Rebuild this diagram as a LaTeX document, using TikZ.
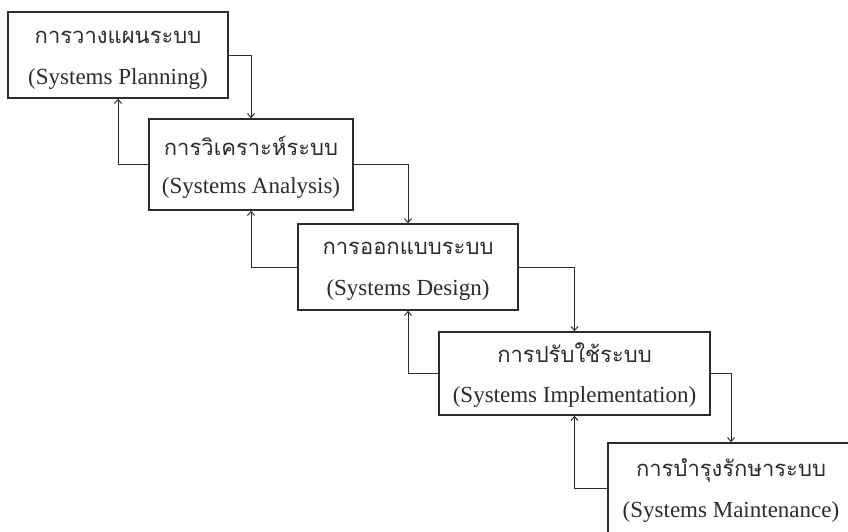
\documentclass[tikz,border=0pt]{standalone}
\usepackage{fontspec}
\setmainfont{Liberation Serif}
\newfontfamily\thaifont[Script=Thai]{Loma}
\usetikzlibrary{arrows.meta}
\definecolor{ink}{HTML}{2C2C2C}
\tikzset{
  x=1pt, y=-1pt,
  stage/.style={draw=ink, line width=1.5pt, fill=white, inner sep=0pt},
  thaitxt/.style={text=ink, font=\thaifont\fontsize{22}{25}\selectfont, inner sep=0pt},
  engtxt/.style={text=ink, font=\fontsize{23}{27}\selectfont, inner sep=0pt},
  flow/.style={draw=ink, line width=1pt, -{Straight Barb[length=4pt,width=7pt]}}
}
\begin{document}
\begin{tikzpicture}
\useasboundingbox[fill=white] (0,0) rectangle (848,531);
% boxes
\node[stage, minimum width=220pt, minimum height=86pt] (b1) at (118,55) {};
\node[stage, minimum width=204pt, minimum height=91pt] (b2) at (251,164.5) {};
\node[stage, minimum width=220pt, minimum height=86pt] (b3) at (408,267) {};
\node[stage, minimum width=271pt, minimum height=83pt] (b4) at (574.5,373.5) {};
\node[stage, minimum width=246pt, minimum height=90pt] (b5) at (731,488) {};
% texts
\node[thaitxt] (t1) at (118,37) {การวางแผนระบบ};
\node[engtxt]  (e1) at (118,79) {(Systems Planning)};
\node[thaitxt] (t2) at (251,146) {การวิเคราะห์ระบบ};
\node[engtxt]  (e2) at (251,188) {(Systems Analysis)};
\node[thaitxt] (t3) at (408,248) {การออกแบบระบบ};
\node[engtxt]  (e3) at (408,290) {(Systems Design)};
\node[thaitxt] (t4) at (574.5,353) {การปรับใช้ระบบ};
\node[engtxt]  (e4) at (574.5,397) {(Systems Implementation)};
\node[thaitxt] (t5) at (731,470) {การบำรุงรักษาระบบ};
\node[engtxt]  (e5) at (731,512) {(Systems Maintenance)};
% forward arrows
\draw[flow] (b1.east) -| (b2.north);
\draw[flow] (b2.east) -| (b3.north);
\draw[flow] (b3.east) -| (b4.north);
\draw[flow] (b4.east) -| (b5.north);
% feedback arrows
\draw[flow] (b2.west) -| (b1.south);
\draw[flow] (b3.west) -| (b2.south);
\draw[flow] (b4.west) -| (b3.south);
\draw[flow] (b5.west) -| (b4.south);
\end{tikzpicture}
\end{document}
